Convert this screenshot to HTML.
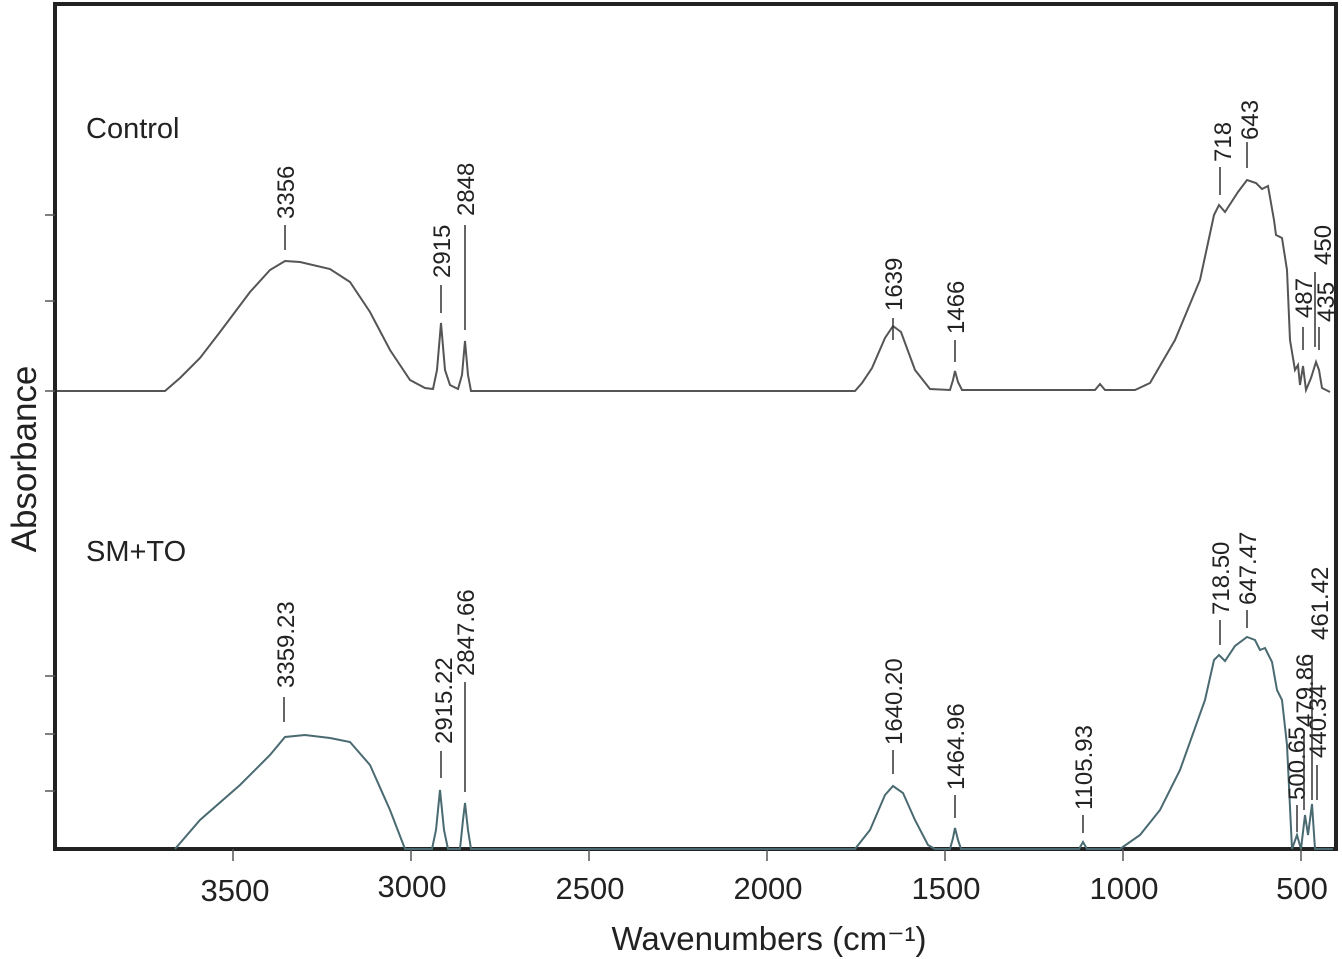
<!DOCTYPE html>
<html><head><meta charset="utf-8"><style>
html,body{margin:0;padding:0;background:#fff;}
svg{display:block;font-family:"Liberation Sans",Arial,sans-serif;}
</style></head><body>
<svg width="1342" height="959" viewBox="0 0 1342 959" xmlns="http://www.w3.org/2000/svg">
<rect x="0" y="0" width="1342" height="959" fill="#fff"/>
<!-- frame -->
<rect x="55" y="4" width="1281" height="845" fill="none" stroke="#222" stroke-width="4"/>
<g stroke="#555" stroke-width="1.5">
<line x1="45" y1="215" x2="55" y2="215"/><line x1="45" y1="301" x2="55" y2="301"/><line x1="45" y1="391" x2="55" y2="391"/>
<line x1="45" y1="676" x2="55" y2="676"/><line x1="45" y1="734" x2="55" y2="734"/><line x1="45" y1="791" x2="55" y2="791"/>
<line x1="233" y1="849" x2="233" y2="861"/><line x1="411" y1="849" x2="411" y2="861"/><line x1="589" y1="849" x2="589" y2="861"/><line x1="767" y1="849" x2="767" y2="861"/><line x1="945" y1="849" x2="945" y2="861"/><line x1="1123" y1="849" x2="1123" y2="861"/><line x1="1301" y1="849" x2="1301" y2="861"/>
</g>
<g font-size="31" fill="#222" text-anchor="middle">
<text x="235" y="901">3500</text><text x="412" y="897">3000</text><text x="590" y="899">2500</text><text x="768" y="899">2000</text><text x="946" y="899">1500</text><text x="1124" y="899">1000</text><text x="1302" y="899">500</text>
</g>
<text x="769" y="950" font-size="33" fill="#222" text-anchor="middle">Wavenumbers (cm⁻¹)</text>
<text transform="translate(36,459) rotate(-90)" font-size="35" fill="#222" text-anchor="middle">Absorbance</text>
<text x="86" y="138" font-size="29" fill="#222">Control</text>
<text x="86" y="561" font-size="29" fill="#222">SM+TO</text>

<!-- control curve -->
<path fill="none" stroke="#555" stroke-width="2" d="M57,391 L165,391 L180,378 L200,358 L220,332 L250,292 L270,270 L285,261 L300,262 L330,269 L350,282 L370,312 L390,350 L410,380 L425,388 L433,389 L437,370 L441,323 L445,370 L450,385 L458,389 L462,375 L465,341 L468,375 L471,391 L855,391 L862,383 L872,368 L885,338 L893,326 L901,332 L915,370 L930,389 L950,390 L953,380 L955,371 L958,382 L962,390 L1095,390 L1100,384 L1105,390 L1135,390 L1150,383 L1175,340 L1200,280 L1214,215 L1219,205 L1225,212 L1238,192 L1247,180 L1256,183 L1262,189 L1268,186 L1274,220 L1276,235 L1282,238 L1287,270 L1290,340 L1295,370 L1298,365 L1300,385 L1303,366 L1306,390 L1311,378 L1316,362 L1319,370 L1322,388 L1330,392"/>
<!-- SM+TO curve -->
<path fill="none" stroke="#4a6a72" stroke-width="2" d="M175,849 L200,820 L240,785 L270,755 L285,737 L305,735 L330,738 L350,742 L370,765 L390,810 L405,849 L432,849 L436,830 L440,790 L444,830 L448,849 L460,849 L463,820 L465,803 L468,830 L471,849 L855,849 L870,830 L885,795 L893,786 L903,793 L915,820 L928,845 L935,849 L950,849 L953,838 L955,828 L958,840 L961,849 L1079,849 L1083,842 L1087,849 L1120,849 L1140,835 L1160,810 L1180,770 L1205,700 L1214,660 L1219,655 L1225,661 L1235,646 L1247,637 L1255,640 L1260,650 L1265,648 L1272,662 L1277,690 L1282,700 L1287,745 L1292,849 L1297,835 L1301,849 L1305,815 L1308,835 L1312,804 L1315,849 L1333,849"/>

<!-- labels -->
<g font-size="24" fill="#222" stroke="none">
<text transform="translate(294,219) rotate(-90)">3356</text>
<text transform="translate(450,278) rotate(-90)">2915</text>
<text transform="translate(474,216) rotate(-90)">2848</text>
<text transform="translate(902,311) rotate(-90)">1639</text>
<text transform="translate(964,334) rotate(-90)">1466</text>
<text transform="translate(1231,162) rotate(-90)">718</text>
<text transform="translate(1258,140) rotate(-90)">643</text>
<text transform="translate(1312,318) rotate(-90)">487</text>
<text transform="translate(1331,265) rotate(-90)">450</text>
<text transform="translate(1334,322) rotate(-90)">435</text>

<text transform="translate(294,688) rotate(-90)">3359.23</text>
<text transform="translate(452,744) rotate(-90)">2915.22</text>
<text transform="translate(474,676) rotate(-90)">2847.66</text>
<text transform="translate(902,745) rotate(-90)">1640.20</text>
<text transform="translate(964,790) rotate(-90)">1464.96</text>
<text transform="translate(1092,810) rotate(-90)">1105.93</text>
<text transform="translate(1229,615) rotate(-90)">718.50</text>
<text transform="translate(1256,605) rotate(-90)">647.47</text>
<text transform="translate(1305,800) rotate(-90)">500.65</text>
<text transform="translate(1313,727) rotate(-90)">479.86</text>
<text transform="translate(1328,640) rotate(-90)">461.42</text>
<text transform="translate(1326,758) rotate(-90)">440.34</text>
</g>
<g stroke="#333" stroke-width="1.5">
<line x1="285" y1="225" x2="285" y2="250"/>
<line x1="441" y1="285" x2="441" y2="313"/>
<line x1="465" y1="225" x2="465" y2="330"/>
<line x1="893" y1="318" x2="893" y2="340"/>
<line x1="955" y1="340" x2="955" y2="362"/>
<line x1="1220" y1="167" x2="1220" y2="195"/>
<line x1="1247" y1="142" x2="1247" y2="168"/>
<line x1="1303" y1="327" x2="1303" y2="350"/>
<line x1="1315" y1="272" x2="1315" y2="347"/>
<line x1="1319" y1="327" x2="1319" y2="350"/>

<line x1="284" y1="697" x2="284" y2="722"/>
<line x1="441" y1="751" x2="441" y2="778"/>
<line x1="465" y1="682" x2="465" y2="792"/>
<line x1="893" y1="750" x2="893" y2="774"/>
<line x1="955" y1="795" x2="955" y2="818"/>
<line x1="1083" y1="815" x2="1083" y2="833"/>
<line x1="1220" y1="620" x2="1220" y2="645"/>
<line x1="1247" y1="610" x2="1247" y2="628"/>
<line x1="1297" y1="805" x2="1297" y2="832"/>
<line x1="1304" y1="730" x2="1304" y2="810"/>
<line x1="1312" y1="655" x2="1312" y2="800"/>
<line x1="1317" y1="765" x2="1317" y2="800"/>
</g>
</svg>
</body></html>
